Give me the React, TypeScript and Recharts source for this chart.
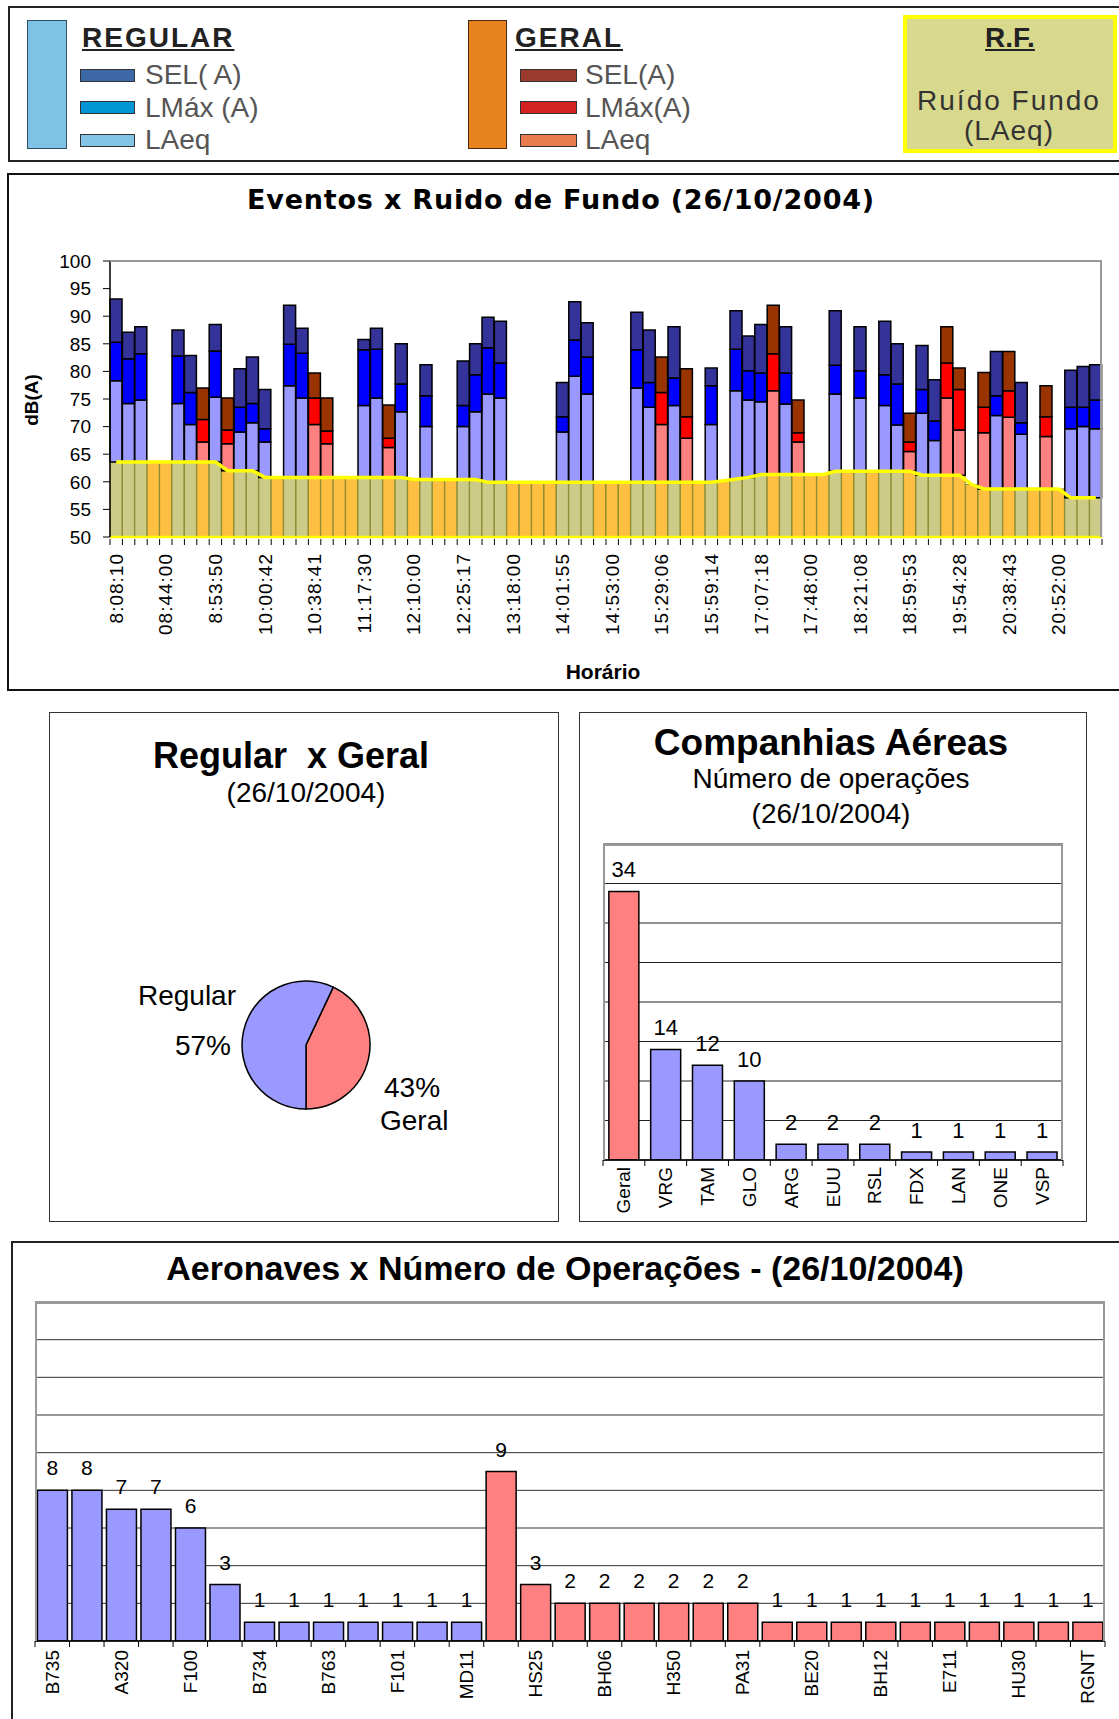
import React from 'react';
import {
  ComposedChart, BarChart, PieChart, Pie, Bar, Line, XAxis, YAxis,
  CartesianGrid, Cell, LabelList,
} from 'recharts';

const FONT = '"Liberation Sans", Arial, Helvetica, sans-serif';

// ---------------- Top chart: Eventos x Ruido de Fundo ----------------
const TIME_LABELS = ['8:08:10', '08:44:00', '8:53:50', '10:00:42', '10:38:41', '11:17:30', '12:10:00', '12:25:17', '13:18:00', '14:01:55', '14:53:00', '15:29:06', '15:59:14', '17:07:18', '17:48:00', '18:21:08', '18:59:53', '19:54:28', '20:38:43', '20:52:00'];

// R = Regular, G = Geral, '-' = no event drawn
const EVENT_TYPE = [
  'R', 'R', 'R', '-', '-', 'R', 'R', 'G', 'R', 'G',
  'R', 'R', 'R', '-', 'R', 'R', 'G', 'G', '-', '-',
  'R', 'R', 'G', 'R', '-', 'R', '-', '-', 'R', 'R',
  'R', 'R', '-', '-', '-', '-', 'R', 'R', 'R', '-',
  '-', '-', 'R', 'R', 'G', 'R', 'G', '-', 'R', '-',
  'R', 'R', 'R', 'G', 'R', 'G', '-', '-', 'R', '-',
  'R', '-', 'R', 'R', 'G', 'R', 'R', 'G', 'G', '-',
  'G', 'R', 'G', 'R', '-', 'G', '-', 'R', 'R', 'R',
];

const SEL_A = [
  93.1, 87.1, 88.1, null, null, 87.5, 82.9, 77.0, 88.5, 75.2,
  80.5, 82.6, 76.7, null, 92.0, 87.8, 79.7, 75.2, null, null,
  85.8, 87.8, 73.9, 85.0, null, 81.2, null, null, 81.9, 85.0,
  89.8, 89.1, null, null, null, null, 78.0, 92.6, 88.8, null,
  null, null, 90.7, 87.5, 82.6, 88.1, 80.5, null, 80.6, null,
  91.0, 86.4, 88.5, 92.0, 88.1, 74.8, null, null, 91.0, null,
  88.1, null, 89.1, 85.0, 72.4, 84.7, 78.5, 88.1, 80.6, null,
  79.8, 83.6, 83.6, 78.0, null, 77.4, null, 80.2, 80.9, 81.2,
];

const LMAX_A = [
  85.3, 82.3, 83.2, null, null, 82.8, 76.2, 71.3, 83.7, 69.4,
  73.5, 74.2, 69.6, null, 84.9, 83.3, 75.2, 69.2, null, null,
  83.9, 84.0, 67.9, 77.7, null, 75.6, null, null, 73.8, 79.4,
  84.3, 81.5, null, null, null, null, 71.8, 85.7, 82.6, null,
  null, null, 83.9, 78.0, 76.2, 78.8, 71.8, null, 77.4, null,
  84.0, 80.1, 79.7, 83.2, 79.7, 68.9, null, null, 81.1, null,
  80.1, null, 79.4, 77.7, 67.2, 76.7, 71.0, 81.5, 76.7, null,
  73.5, 75.6, 76.5, 70.7, null, 71.8, null, 73.5, 73.5, 74.8,
];

const LAEQ_A = [
  78.3, 74.2, 74.8, null, null, 74.2, 70.4, 67.2, 75.3, 66.9,
  69.0, 70.7, 67.2, null, 77.4, 75.2, 70.4, 66.9, null, null,
  73.8, 75.2, 66.2, 72.7, null, 70.0, null, null, 70.0, 72.7,
  75.9, 75.2, null, null, null, null, 69.0, 79.1, 75.9, null,
  null, null, 77.0, 73.5, 70.4, 73.8, 67.9, null, 70.4, null,
  76.5, 74.8, 74.5, 76.5, 74.1, 67.2, null, null, 75.9, null,
  75.2, null, 73.8, 70.3, 65.5, 72.4, 67.5, 75.2, 69.4, null,
  68.9, 72.0, 71.7, 68.6, null, 68.2, null, 69.6, 70.0, 69.6,
];

const FUNDO = [
  63.6, 63.6, 63.6, 63.6, 63.6, 63.6, 63.6, 63.6, 63.6, 62.0,
  62.0, 62.0, 60.8, 60.8, 60.8, 60.8, 60.8, 60.8, 60.8, 60.8,
  60.8, 60.8, 60.8, 60.8, 60.4, 60.4, 60.4, 60.4, 60.4, 60.4,
  59.9, 59.9, 59.9, 59.9, 59.9, 59.9, 59.9, 59.9, 59.9, 59.9,
  59.9, 59.9, 59.9, 59.9, 59.9, 59.9, 59.9, 59.9, 59.9, 60.2,
  60.5, 60.8, 61.3, 61.3, 61.3, 61.3, 61.3, 61.3, 61.9, 61.9,
  61.9, 61.9, 61.9, 61.9, 61.9, 61.2, 61.2, 61.2, 61.2, 59.5,
  58.7, 58.7, 58.7, 58.7, 58.7, 58.7, 58.7, 57.1, 57.1, 57.1,
];

const Y_TICKS_TOP = [50, 55, 60, 65, 70, 75, 80, 85, 90, 95, 100];

// ---------------- Pie ----------------
const PIE_NAMES = ['Geral', 'Regular'];
const PIE_PCT = [43, 57];

// ---------------- Companhias ----------------
const AIRLINES = ['Geral', 'VRG', 'TAM', 'GLO', 'ARG', 'EUU', 'RSL', 'FDX', 'LAN', 'ONE', 'VSP'];
const AIRLINE_OPS = [34, 14, 12, 10, 2, 2, 2, 1, 1, 1, 1];
const COMP_TICKS = [0, 5, 10, 15, 20, 25, 30, 35, 40];

// ---------------- Aeronaves ----------------
const AIRCRAFT = ['B735', '', 'A320', '', 'F100', '', 'B734', '', 'B763', '', 'F101', '', 'MD11', '', 'HS25', '', 'BH06', '', 'H350', '', 'PA31', '', 'BE20', '', 'BH12', '', 'E711', '', 'HU30', '', 'RGNT'];
const AIRCRAFT_OPS = [8, 8, 7, 7, 6, 3, 1, 1, 1, 1, 1, 1, 1, 9, 3, 2, 2, 2, 2, 2, 2, 1, 1, 1, 1, 1, 1, 1, 1, 1, 1];
const AIRCRAFT_GROUP = ['R', 'R', 'R', 'R', 'R', 'R', 'R', 'R', 'R', 'R', 'R', 'R', 'R', 'G', 'G', 'G', 'G', 'G', 'G', 'G', 'G', 'G', 'G', 'G', 'G', 'G', 'G', 'G', 'G', 'G', 'G'];
const AC_TICKS = [0, 2, 4, 6, 8, 10, 12, 14, 16, 18];

// ---------------- Colors ----------------
const REG = { laeq: '#9999FF', lmax: '#0000FF', sel: '#333399' };
const GER = { laeq: '#FF8080', lmax: '#FF0000', sel: '#993300' };
const OLIVE = '#CCCC88';
const ORANGE = '#FFBF40';

const topData = FUNDO.map((f, i) => {
  const has = EVENT_TYPE[i] !== '-';
  return {
    slot: i,
    fundo: f,
    bg: f,
    laeqSeg: has ? (LAEQ_A[i] as number) - f : 0,
    lmaxSeg: has ? (LMAX_A[i] as number) - (LAEQ_A[i] as number) : 0,
    selSeg: has ? (SEL_A[i] as number) - (LMAX_A[i] as number) : 0,
  };
});

const compData = AIRLINES.map((n, i) => ({ idx: i, name: n, ops: AIRLINE_OPS[i] }));
const acData = AIRCRAFT.map((n, i) => ({ idx: i, name: n, ops: AIRCRAFT_OPS[i] }));
const pieData = PIE_NAMES.map((n, i) => ({ name: n, value: PIE_PCT[i] }));

// ---------------- Layout constants ----------------
const TOP_W = 1119, TOP_H = 517, TOP_YW = 110;
const TOP_M = { top: 88, right: 17, bottom: 3, left: 0 };
const TOP_BW = (TOP_W - TOP_M.left - TOP_M.right - TOP_YW) / FUNDO.length;

const COMP_W = 508, COMP_H = 510;
const COMP_M = { top: 132, right: 24, bottom: 2, left: 24 };
const COMP_BW = (COMP_W - COMP_M.left - COMP_M.right) / AIRLINES.length;

const AC_W = 1108, AC_H = 478;
const AC_M = { top: 61, right: 14, bottom: 2, left: 24 };
const AC_BW = (AC_W - AC_M.left - AC_M.right) / AIRCRAFT.length;

function makeTick(bw: number, n: number, getLabel: (i: number) => string, fontSize: number, gap: number, tickFrom: number, tickLen: number, spacing = 0) {
  return (props: any) => {
    const { x, y, payload } = props;
    const i = Number(payload.value);
    const label = getLabel(i);
    const lx = x - bw / 2;
    const ty = y + gap;
    return (
      <g>
        <line x1={lx} x2={lx} y1={y + tickFrom} y2={y + tickFrom + tickLen} stroke="#000" strokeWidth={1} />
        {i === n - 1 ? (
          <line x1={x + bw / 2} x2={x + bw / 2} y1={y + tickFrom} y2={y + tickFrom + tickLen} stroke="#000" strokeWidth={1} />
        ) : null}
        {label ? (
          <text x={x} y={ty} transform={`rotate(-90 ${x} ${ty})`} textAnchor="end" dominantBaseline="central"
            fontSize={fontSize} fontFamily={FONT} fill="#000" letterSpacing={spacing}>{label}</text>
        ) : null}
      </g>
    );
  };
}

const topTick = makeTick(TOP_BW, FUNDO.length, (i) => (i % 4 === 0 ? TIME_LABELS[i / 4] : ''), 19, 16, 2, 6, 1);
const compTick = makeTick(COMP_BW, AIRLINES.length, (i) => AIRLINES[i], 19, 7, 0, 6);
const acTick = makeTick(AC_BW, AIRCRAFT.length, (i) => AIRCRAFT[i], 19, 9, 0, 6);
const emptyTick = () => <g />;

type TProps = { x: number; y: number; size: number; bold?: boolean; anchor?: 'start' | 'middle' | 'end'; color?: string; family?: string; spacing?: number; underline?: boolean; rotate?: number; children: React.ReactNode };
const T = ({ x, y, size, bold, anchor = 'middle', color = '#000', family = FONT, spacing = 0, underline = false, rotate = 0, children }: TProps) => (
  <div style={{
    position: 'absolute', left: x, top: y,
    transform: `translate(${anchor === 'middle' ? '-50%' : anchor === 'end' ? '-100%' : '0'}, -50%)${rotate ? ` rotate(${rotate}deg)` : ''}`,
    fontSize: size, fontWeight: bold ? 700 : 400, whiteSpace: 'pre', lineHeight: 1, color, fontFamily: family,
    letterSpacing: spacing, textDecoration: underline ? 'underline' : 'none',
  }}>{children}</div>
);

const Box = ({ left, top, width, height, border, style }: any) => (
  <div style={{ position: 'absolute', left, top, width, height, border, boxSizing: 'border-box', ...style }} />
);

const renderPieLabel = (p: any) => {
  const { cx, cy, outerRadius, midAngle, name, percent } = p;
  const pct = `${Math.round(percent * 100)}%`;
  const left = Math.cos((midAngle * Math.PI) / 180) < 0;
  if (left) {
    const x = cx - outerRadius - 6;
    return (
      <g>
        <text x={x} y={cy - 50} textAnchor="end" dominantBaseline="central" fontSize={28} fontFamily={FONT} fill="#000">{name}</text>
        <text x={x - 5} y={cy} textAnchor="end" dominantBaseline="central" fontSize={28} fontFamily={FONT} fill="#000">{pct}</text>
      </g>
    );
  }
  const x = cx + outerRadius + 12;
  return (
    <g>
      <text x={x + 2} y={cy + 42} textAnchor="start" dominantBaseline="central" fontSize={28} fontFamily={FONT} fill="#000">{pct}</text>
      <text x={x - 2} y={cy + 75} textAnchor="start" dominantBaseline="central" fontSize={28} fontFamily={FONT} fill="#000">{name}</text>
    </g>
  );
};

export default function App() {
  return (
    <div style={{ position: 'absolute', left: 0, top: 0, width: 1119, height: 1719, overflow: 'hidden', background: '#fff', fontFamily: FONT }}>
      {/* ---------- Legend ---------- */}
      <Box left={8} top={6} width={1130} height={156} border="2px solid #222" />
      <Box left={27} top={20} width={40} height={129} border="1.5px solid #2F4F5F" style={{ background: '#7EC3E6' }} />
      <T x={82} y={38} size={28} bold anchor="start" spacing={2} underline color="#222">REGULAR</T>
      <Box left={80} top={69} width={55} height={13} border="1px solid #333" style={{ background: '#3D68A8' }} />
      <Box left={80} top={101} width={55} height={13} border="1px solid #333" style={{ background: '#0096D6' }} />
      <Box left={80} top={134} width={55} height={13} border="1px solid #333" style={{ background: '#84C4E6' }} />
      <T x={145} y={75} size={28} anchor="start" color="#555">SEL( A)</T>
      <T x={145} y={108} size={28} anchor="start" color="#555">LMáx (A)</T>
      <T x={145} y={140} size={28} anchor="start" color="#555">LAeq</T>

      <Box left={468} top={20} width={39} height={129} border="1.5px solid #4A2A10" style={{ background: '#E8821E' }} />
      <T x={515} y={38} size={28} bold anchor="start" spacing={2} underline color="#222">GERAL</T>
      <Box left={520} top={69} width={57} height={13} border="1px solid #333" style={{ background: '#9A3B2E' }} />
      <Box left={520} top={101} width={57} height={13} border="1px solid #333" style={{ background: '#D42222' }} />
      <Box left={520} top={134} width={57} height={13} border="1px solid #333" style={{ background: '#E97B4E' }} />
      <T x={585} y={75} size={28} anchor="start" color="#555">SEL(A)</T>
      <T x={585} y={108} size={28} anchor="start" color="#555">LMáx(A)</T>
      <T x={585} y={140} size={28} anchor="start" color="#555">LAeq</T>

      <Box left={903} top={15} width={214} height={138} border="4px solid #FFFF00" style={{ background: '#D9D98E' }} />
      <T x={1010} y={38} size={28} bold underline color="#222">R.F.</T>
      <T x={1009} y={101} size={28} spacing={2} color="#333">Ruído Fundo</T>
      <T x={1009} y={131} size={28} spacing={1} color="#333">(LAeq)</T>

      {/* ---------- Top chart ---------- */}
      <Box left={7} top={173} width={1130} height={518} border="2px solid #111" />
      <T x={561} y={199} size={27} bold family='"DejaVu Sans", Verdana, sans-serif' spacing={0.8}>Eventos x Ruido de Fundo (26/10/2004)</T>
      <T x={31} y={400} size={19} bold rotate={-90}>dB(A)</T>
      <T x={603} y={671} size={21} bold>Horário</T>
      <div style={{ position: 'absolute', left: 0, top: 173 }}>
        <ComposedChart width={TOP_W} height={TOP_H} data={topData} margin={TOP_M} barCategoryGap={0} barGap={0}>
          <XAxis dataKey="slot" type="category" interval={0} height={150} tickLine={false} tickSize={0} tickMargin={0}
            axisLine={{ stroke: '#FFFF00', strokeWidth: 2.5 }} tick={topTick} />
          <YAxis type="number" domain={[50, 100]} ticks={Y_TICKS_TOP} interval={0} allowDataOverflow width={TOP_YW}
            tickSize={7} tickMargin={12} axisLine={{ stroke: '#000', strokeWidth: 1.5 }} tickLine={{ stroke: '#000' }}
            tick={{ fontSize: 19, fill: '#000', fontFamily: FONT }} />
          <Bar dataKey="bg" stackId="s" isAnimationActive={false} stroke="#8A8A2E" strokeWidth={1}>
            {topData.map((_, i) => <Cell key={i} fill={EVENT_TYPE[i] === 'R' ? OLIVE : ORANGE} />)}
          </Bar>
          <Bar dataKey="laeqSeg" stackId="s" isAnimationActive={false} stroke="#000" strokeWidth={1.5}>
            {topData.map((_, i) => <Cell key={i} fill={EVENT_TYPE[i] === 'G' ? GER.laeq : REG.laeq} />)}
          </Bar>
          <Bar dataKey="lmaxSeg" stackId="s" isAnimationActive={false} stroke="#000" strokeWidth={1.5}>
            {topData.map((_, i) => <Cell key={i} fill={EVENT_TYPE[i] === 'G' ? GER.lmax : REG.lmax} />)}
          </Bar>
          <Bar dataKey="selSeg" stackId="s" isAnimationActive={false} stroke="#000" strokeWidth={1.5}>
            {topData.map((_, i) => <Cell key={i} fill={EVENT_TYPE[i] === 'G' ? GER.sel : REG.sel} />)}
          </Bar>
          <Line dataKey="fundo" type="linear" stroke="#FFFF00" strokeWidth={3.5} dot={false} activeDot={false} isAnimationActive={false} />
        </ComposedChart>
      </div>
      <div style={{ position: 'absolute', left: 110, top: 260, width: 992, height: 277, borderTop: '2px solid #999', borderRight: '2px solid #999', boxSizing: 'border-box', pointerEvents: 'none' }} />

      {/* ---------- Pie ---------- */}
      <Box left={49} top={712} width={510} height={510} border="1.5px solid #333" />
      <T x={291} y={756} size={36} bold>{'Regular  x Geral'}</T>
      <T x={306} y={793} size={28}>(26/10/2004)</T>
      <div style={{ position: 'absolute', left: 49, top: 712 }}>
        <PieChart width={510} height={510}>
          <Pie data={pieData} dataKey="value" nameKey="name" cx={252} cy={328} outerRadius={64}
            startAngle={-90} endAngle={270} stroke="#000" strokeWidth={1.5}
            label={renderPieLabel} labelLine={false} isAnimationActive={false}>
            <Cell fill="#FF8080" />
            <Cell fill="#9999FF" />
          </Pie>
        </PieChart>
      </div>

      {/* ---------- Companhias ---------- */}
      <Box left={579} top={712} width={508} height={510} border="1.5px solid #333" />
      <T x={831} y={742} size={37} bold>Companhias Aéreas</T>
      <T x={831} y={779} size={28}>Número de operações</T>
      <T x={831} y={814} size={28}>(26/10/2004)</T>
      <div style={{ position: 'absolute', left: 579, top: 712 }}>
        <BarChart width={COMP_W} height={COMP_H} data={compData} margin={COMP_M} barCategoryGap="14%">
          <CartesianGrid vertical={false} stroke="#222" strokeWidth={1} />
          <XAxis dataKey="idx" type="category" interval={0} height={60} tickLine={false} tickSize={0} tickMargin={0}
            axisLine={{ stroke: '#000', strokeWidth: 1.5 }} tick={compTick} />
          <YAxis type="number" width={0} domain={[0, 40]} ticks={COMP_TICKS} interval={0} allowDataOverflow
            axisLine={false} tickSize={4} tickLine={{ stroke: '#333' }} tick={emptyTick} />
          <Bar dataKey="ops" isAnimationActive={false} stroke="#000" strokeWidth={1.5}>
            {compData.map((d, i) => <Cell key={i} fill={d.name === 'Geral' ? '#FF8080' : '#9999FF'} />)}
            <LabelList dataKey="ops" position="top" offset={14} fontSize={22} fontFamily={FONT} fill="#000" />
          </Bar>
        </BarChart>
      </div>
      <div style={{ position: 'absolute', left: 603, top: 844, width: 460, height: 316, borderTop: '2px solid #999', borderLeft: '2px solid #999', borderRight: '2px solid #999', boxSizing: 'border-box', pointerEvents: 'none' }} />

      {/* ---------- Aeronaves ---------- */}
      <Box left={11} top={1241} width={1130} height={500} border="2px solid #222" />
      <T x={565} y={1268} size={34} bold>Aeronaves x Número de Operações - (26/10/2004)</T>
      <div style={{ position: 'absolute', left: 11, top: 1241 }}>
        <BarChart width={AC_W} height={AC_H} data={acData} margin={AC_M} barCategoryGap="7%">
          <CartesianGrid vertical={false} stroke="#333" strokeWidth={1} />
          <XAxis dataKey="idx" type="category" interval={0} height={76} tickLine={false} tickSize={0} tickMargin={0}
            axisLine={{ stroke: '#000', strokeWidth: 1.5 }} tick={acTick} />
          <YAxis type="number" width={0} domain={[0, 18]} ticks={AC_TICKS} interval={0} allowDataOverflow
            axisLine={false} tickSize={4} tickLine={{ stroke: '#333' }} tick={emptyTick} />
          <Bar dataKey="ops" isAnimationActive={false} stroke="#000" strokeWidth={1.5}>
            {acData.map((_, i) => <Cell key={i} fill={AIRCRAFT_GROUP[i] === 'G' ? '#FF8080' : '#9999FF'} />)}
            <LabelList dataKey="ops" position="top" offset={15} fontSize={21} fontFamily={FONT} fill="#000" />
          </Bar>
        </BarChart>
      </div>
      <div style={{ position: 'absolute', left: 35, top: 1302, width: 1070, height: 339, borderTop: '2px solid #999', borderLeft: '2px solid #999', borderRight: '2px solid #999', boxSizing: 'border-box', pointerEvents: 'none' }} />
    </div>
  );
}
